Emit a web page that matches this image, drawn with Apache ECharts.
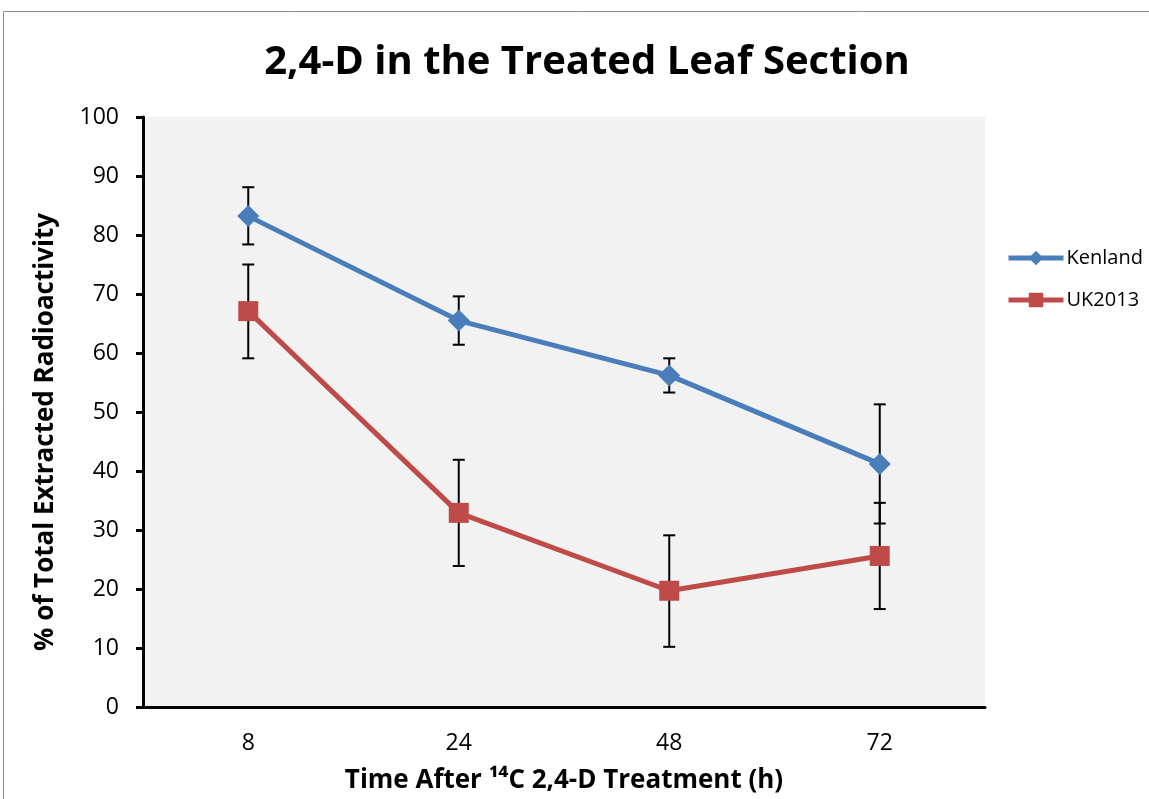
<!DOCTYPE html>
<html>
<head>
<meta charset="utf-8">
<script src="https://cdn.jsdelivr.net/npm/echarts@6/dist/echarts.min.js"></script>
<style>
html, body { margin: 0; padding: 0; background: #fff; }
#main { width: 1149px; height: 799px; }
</style>
</head>
<body>
<div id="main"></div>
<script>
var hours = ['8', '24', '48', '72'];
var kenland = [83.2, 65.5, 56.2, 41.2];
var kenlandLow = [78.4, 61.4, 53.3, 31.1];
var kenlandHigh = [88.1, 69.6, 59.1, 51.3];
var uk2013 = [67.1, 32.9, 19.7, 25.6];
var ukLow = [59.1, 23.9, 10.2, 16.6];
var ukHigh = [75.0, 41.9, 29.1, 34.6];

var font = '"Open Sans", "Liberation Sans", sans-serif';

function errData(low, high) {
	var out = [];
	for (var i = 0; i < low.length; i++) {
		out.push([i, low[i], high[i]]);
	}
	return out;
}

function renderErr(params, api) {
	var lo = api.coord([api.value(0), api.value(1)]);
	var hi = api.coord([api.value(0), api.value(2)]);
	var w = 6;
	var style = { stroke: '#000', lineWidth: 2 };
	return {
		type: 'group',
		children: [
			{ type: 'line', shape: { x1: hi[0], y1: hi[1], x2: lo[0], y2: lo[1] }, style: style },
			{ type: 'line', shape: { x1: hi[0] - w, y1: hi[1], x2: hi[0] + w, y2: hi[1] }, style: style },
			{ type: 'line', shape: { x1: lo[0] - w, y1: lo[1], x2: lo[0] + w, y2: lo[1] }, style: style }
		]
	};
}

var myChart = echarts.init(document.getElementById('main'));

var option = {
	backgroundColor: '#fff',
	animation: false,
	title: {
		text: '2,4-D in the Treated Leaf Section',
		left: 582,
		textAlign: 'center',
		top: 38,
		textStyle: { fontFamily: font, fontWeight: 'bold', fontSize: 40, color: '#000' }
	},
	graphic: [{
		type: 'rect',
		shape: { x: 3.5, y: 11.5, width: 1200, height: 900 },
		style: { fill: 'none', stroke: '#8c8c8c', lineWidth: 1 },
		silent: true
	}],
	legend: {
		orient: 'vertical',
		left: 1001,
		top: 243,
		itemWidth: 55,
		itemHeight: 18,
		itemGap: 22,
		lineStyle: { width: 5 },
		textStyle: { fontFamily: font, fontSize: 20, color: '#000', padding: [0, 0, 0, -2] },
		data: ['Kenland', 'UK2013']
	},
	grid: {
		left: 143,
		right: 164,
		top: 117,
		bottom: 89,
		show: true,
		backgroundColor: '#f2f2f2',
		borderWidth: 0
	},
	xAxis: {
		type: 'category',
		data: hours,
		boundaryGap: true,
		name: 'Time After ¹⁴C 2,4-D Treatment (h)',
		nameLocation: 'middle',
		nameGap: 61,
		nameTextStyle: { fontFamily: font, fontWeight: 'bold', fontSize: 26, color: '#000' },
		axisLine: { lineStyle: { color: '#000', width: 3 } },
		axisTick: { length: 6, lineStyle: { color: '#000', width: 3 } },
		axisLabel: { fontFamily: font, fontSize: 23, color: '#000', margin: 25 }
	},
	yAxis: {
		type: 'value',
		min: 0,
		max: 100,
		interval: 10,
		name: '% of Total Extracted Radioactivity',
		nameLocation: 'middle',
		nameGap: 84,
		nameTextStyle: { fontFamily: font, fontWeight: 'bold', fontSize: 26, color: '#000', padding: [0, 40, 0, 0] },
		axisLine: { show: true, lineStyle: { color: '#000', width: 3 } },
		axisTick: { show: true, length: 7, lineStyle: { color: '#000', width: 3 } },
		splitLine: { show: false },
		axisLabel: { fontFamily: font, fontSize: 23, color: '#000', margin: 24 }
	},
	series: [{
		name: 'KenlandErr',
		type: 'custom',
		renderItem: renderErr,
		data: errData(kenlandLow, kenlandHigh),
		z: 1,
		silent: true
	}, {
		name: 'UKErr',
		type: 'custom',
		renderItem: renderErr,
		data: errData(ukLow, ukHigh),
		z: 1,
		silent: true
	}, {
		name: 'Kenland',
		type: 'line',
		data: kenland,
		symbol: 'diamond',
		symbolSize: 22,
		color: '#4a7ebb',
		lineStyle: { width: 5, color: '#4a7ebb' },
		itemStyle: { color: '#4a7ebb' },
		z: 3
	}, {
		name: 'UK2013',
		type: 'line',
		data: uk2013,
		symbol: 'rect',
		symbolSize: 20,
		color: '#be4b48',
		lineStyle: { width: 5, color: '#be4b48' },
		itemStyle: { color: '#be4b48' },
		z: 3
	}]
};
myChart.setOption(option);
</script>
</body>
</html>
